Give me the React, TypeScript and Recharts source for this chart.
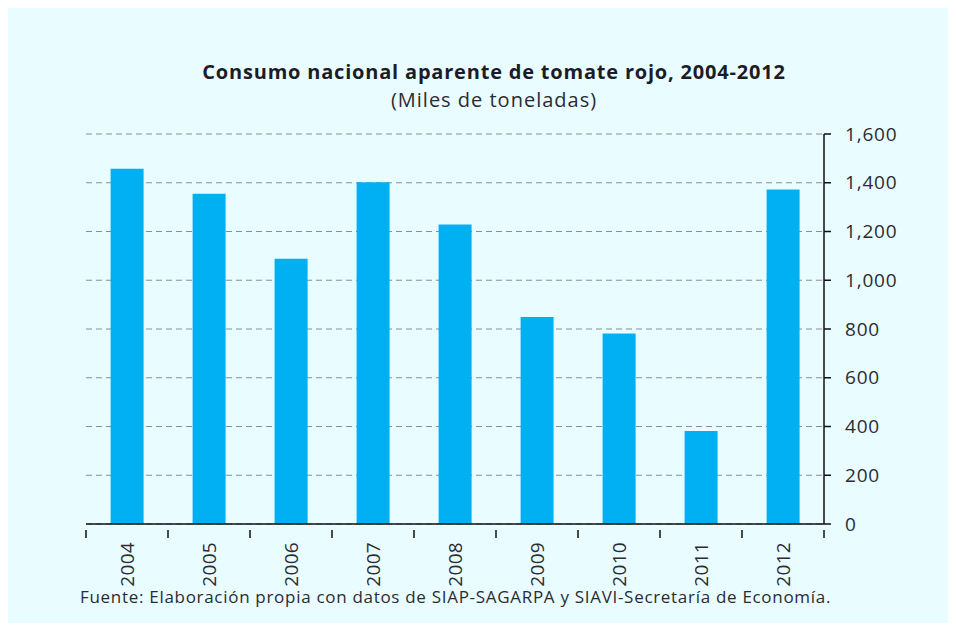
import React from 'react'
import { BarChart, Bar, XAxis, YAxis, CartesianGrid } from 'recharts'

const years = ['2004', '2005', '2006', '2007', '2008', '2009', '2010', '2011', '2012']
const consumo = [1457, 1355, 1088, 1402, 1229, 849, 782, 382, 1372]
const yTicks = [0, 200, 400, 600, 800, 1000, 1200, 1400, 1600]

const FONT = '"Open Sans", "Noto Sans", sans-serif'
const TEXT = '#2b2b33'

const data = years.map((y, i) => ({ year: y, value: consumo[i] }))

// year label rotated, plus tick marks sitting on the category borders
function YearTick(props: any) {
  const { x, y, payload, index } = props
  const half = 41
  return (
    <g>
      <line x1={x - half} x2={x - half} y1={y - 2} y2={y + 6} stroke="#111" strokeWidth={1.5} />
      {index === years.length - 1 && (
        <line x1={x + half} x2={x + half} y1={y - 2} y2={y + 6} stroke="#111" strokeWidth={1.5} />
      )}
      <text
        transform={`translate(${x}, ${y + 10}) rotate(-90)`}
        textAnchor="end"
        dominantBaseline="central"
        fill={TEXT}
        fontSize={19}
        letterSpacing={0.3}
        fontFamily={FONT}
      >
        {payload.value}
      </text>
    </g>
  )
}

export default function App() {
  return (
    <div style={{ position: 'relative', width: 948, height: 619, marginTop: -4, background: '#e9fcff', fontFamily: FONT }}>
      <div style={{ position: 'absolute', left: 0, width: 972, top: 56, lineHeight: '24px', textAlign: 'center', fontSize: 20, letterSpacing: 0.8, fontWeight: 700, color: '#1c1c28' }}>
        Consumo nacional aparente de tomate rojo, 2004-2012
      </div>
      <div style={{ position: 'absolute', left: 0, width: 972, top: 84, lineHeight: '24px', textAlign: 'center', fontSize: 20, letterSpacing: 1, color: TEXT }}>
        (Miles de toneladas)
      </div>
      <BarChart
        width={948}
        height={619}
        data={data}
        margin={{ top: 130, left: 78, right: 72, bottom: 49 }}
        barCategoryGap="30%"
      >
        <CartesianGrid vertical={false} stroke="#8a8f94" strokeDasharray="6 4" />
        <XAxis
          dataKey="year"
          height={50}
          axisLine={{ stroke: '#111', strokeWidth: 1.5 }}
          tickLine={false}
          interval={0}
          tick={<YearTick />}
        />
        <YAxis
          orientation="right"
          width={60}
          domain={[0, 1600]}
          ticks={yTicks}
          interval={0}
          axisLine={{ stroke: '#111', strokeWidth: 1.5 }}
          tickLine={{ stroke: '#111', strokeWidth: 1.5 }}
          tickSize={7}
          tickMargin={14}
          tickFormatter={(v: number) => v.toLocaleString('en-US')}
          tick={{ fill: TEXT, fontSize: 19, letterSpacing: 0.8, fontFamily: FONT, textAnchor: 'start' }}
        />
        <Bar dataKey="value" fill="#00b0f2" isAnimationActive={false} />
      </BarChart>
      <div style={{ position: 'absolute', left: 72, top: 582, lineHeight: '22px', fontSize: 17, letterSpacing: 0.7, color: TEXT, whiteSpace: 'nowrap' }}>
        Fuente: Elaboración propia con datos de SIAP-SAGARPA y SIAVI-Secretaría de Economía.
      </div>
    </div>
  )
}
